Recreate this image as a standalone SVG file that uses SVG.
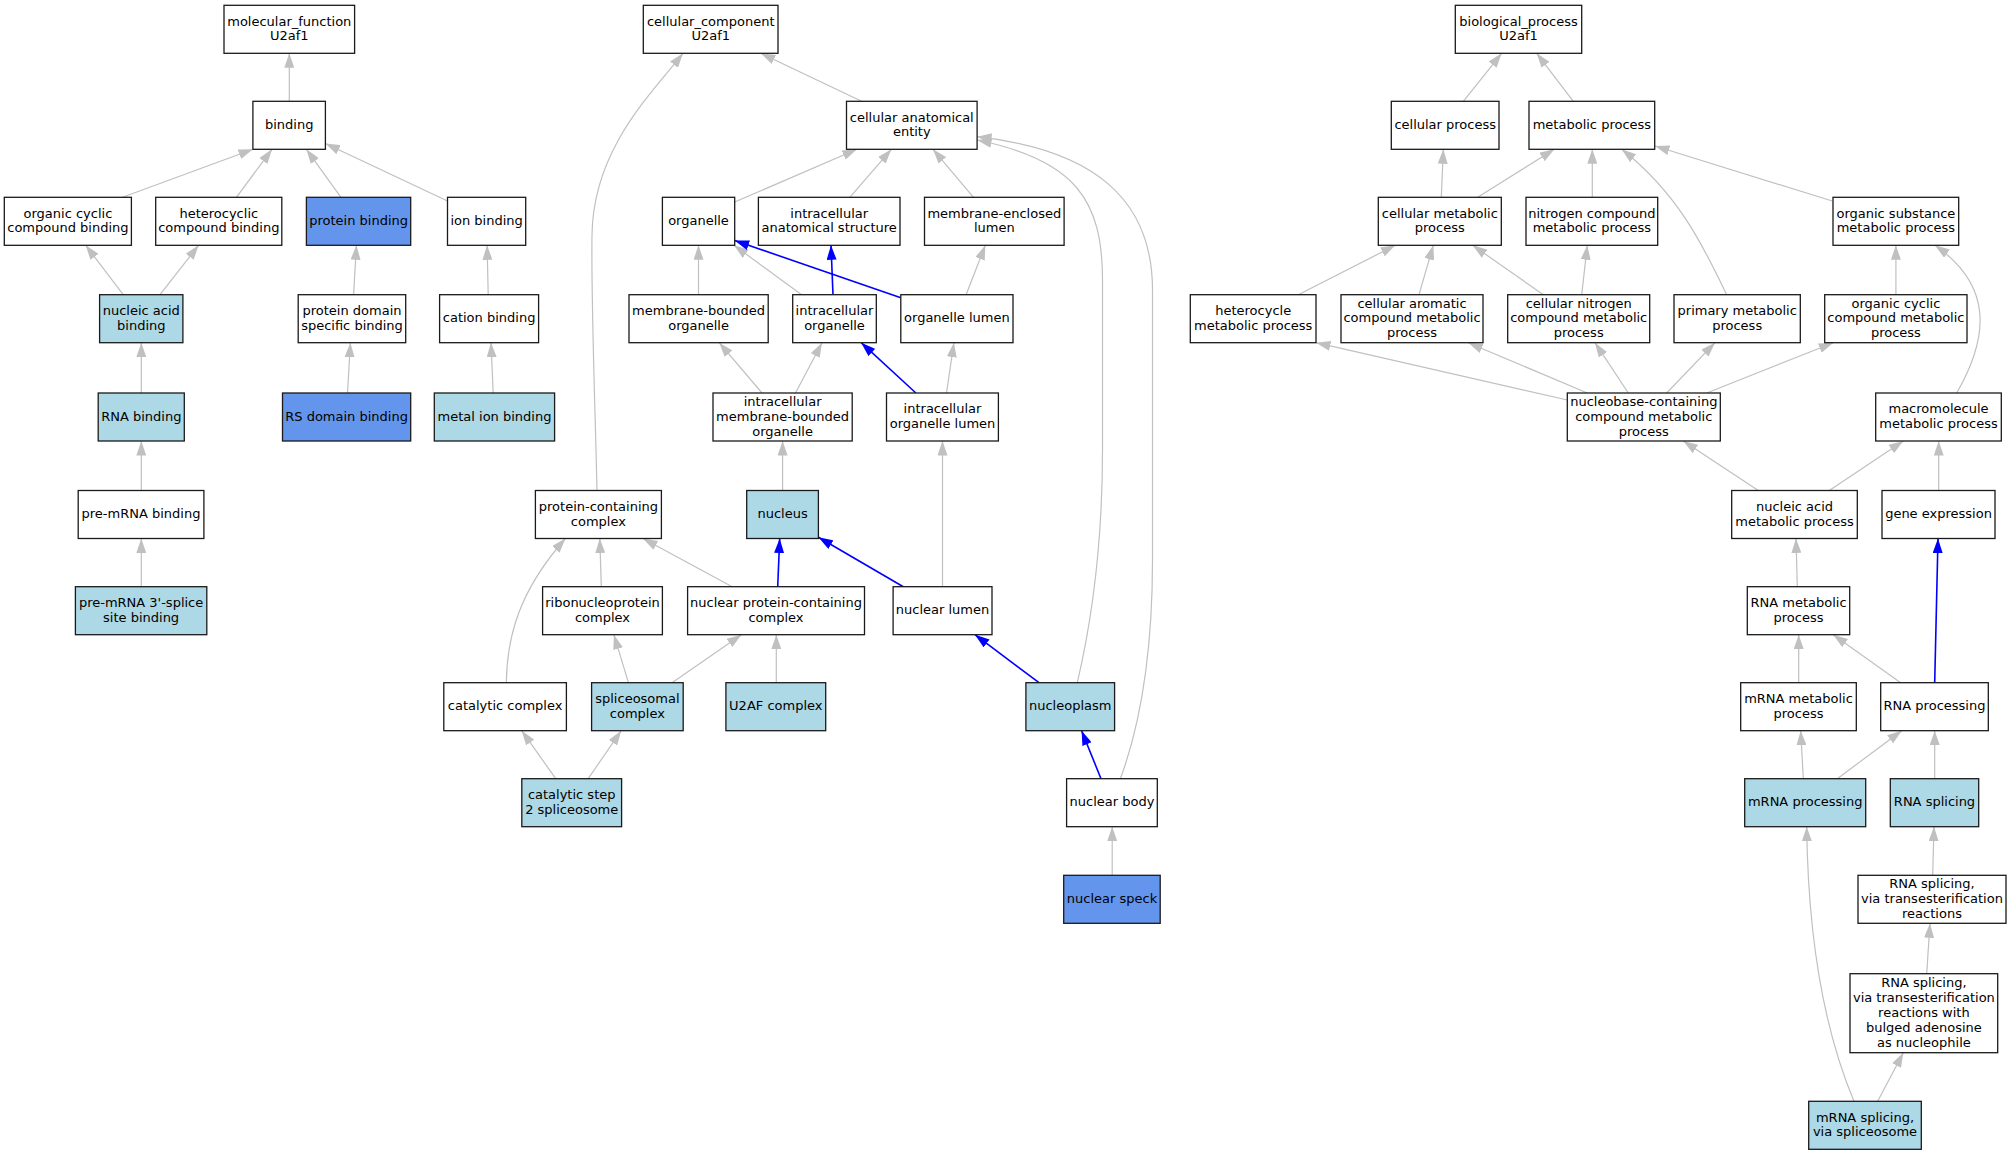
<svg xmlns="http://www.w3.org/2000/svg" width="2012" height="1155" viewBox="0 0 2012 1155">
<style>
.n rect{fill:#fff;stroke:#1a1a1a;stroke-width:1.3}
.n.lb rect{fill:#add8e6}
.n.cb rect{fill:#6495ed}
text{font-family:"DejaVu Sans","Liberation Sans",sans-serif;font-size:13px;text-anchor:middle;fill:#000}
#edges path{fill:none;stroke:#c0c0c0;stroke-width:1.2;marker-end:url(#ag)}
#edges path.b{stroke:#0000ff;stroke-width:1.6;marker-end:url(#ab)}
</style>
<defs>
<marker id="ag" viewBox="0 0 14.5 10" refX="14.5" refY="5" markerWidth="14.5" markerHeight="10" markerUnits="userSpaceOnUse" orient="auto"><path d="M0,0 L14.5,5 L0,10 z" fill="#c0c0c0"/></marker>
<marker id="ab" viewBox="0 0 14.5 10" refX="14.5" refY="5" markerWidth="14.5" markerHeight="10" markerUnits="userSpaceOnUse" orient="auto"><path d="M0,0 L14.5,5 L0,10 z" fill="#0000ff"/></marker>
</defs>
<rect width="2012" height="1155" fill="#fff"/>
<g id="edges">
<path d="M289.3,101.3 L289.3,53.3"/>
<path d="M122.5,197.3 L253,149.3"/>
<path d="M236.4,197.3 L272,149.3"/>
<path d="M341,197.3 L306.4,149.3"/>
<path d="M447.5,201 L325.4,143.5"/>
<path d="M123.2,294.7 L85.7,245.3"/>
<path d="M160,294.7 L198.6,245.3"/>
<path d="M353.6,294.7 L356.4,245.3"/>
<path d="M488.2,294.7 L487.1,245.3"/>
<path d="M141.3,393 L141.3,342.7"/>
<path d="M347.5,393 L350.4,342.7"/>
<path d="M493.2,393 L491,342.7"/>
<path d="M141.3,490.5 L141.3,441"/>
<path d="M141.3,586.7 L141.3,538.5"/>
<path d="M861.6,101.3 L760.8,53.3"/>
<path d="M597,490.5 C595,400 591,300 592,235 C593,150 650,95 683,53.3"/>
<path d="M734.7,202 L857,149.3"/>
<path d="M849.8,197.3 L891.4,149.3"/>
<path d="M973.5,197.3 L933,149.3"/>
<path d="M1077.3,682.7 C1092,620 1102.5,540 1102.5,450 L1102.5,280 C1102.5,200 1075,160 977.1,140"/>
<path d="M1120.4,778.7 C1142,720 1152.5,650 1152.5,560 L1152.5,290 C1152.5,200 1095,150 977.1,136.7"/>
<path d="M698.5,294.7 L698.5,245.3"/>
<path d="M801.6,294.7 L734,245.3"/>
<path class="b" d="M900.8,297.7 L734.7,240.5"/>
<path class="b" d="M833,294.7 L831,245.3"/>
<path d="M966.1,294.7 L985.3,245.3"/>
<path d="M762,393 L719.2,342.7"/>
<path d="M795.5,393 L822,342.7"/>
<path class="b" d="M915.9,393 L861.2,342.7"/>
<path d="M946.5,393 L953.9,342.7"/>
<path d="M782.6,490.5 L782.6,441"/>
<path d="M942.5,586.7 L942.5,441"/>
<path d="M601.3,586.7 L599.8,538.5"/>
<path d="M732.2,586.7 L643,538.5"/>
<path d="M506.3,682.7 C507,635 520,590 565.4,538.5"/>
<path class="b" d="M777.7,586.7 L779.7,538.5"/>
<path class="b" d="M903.3,586.7 L818.4,537.3"/>
<path d="M628.4,682.7 L613.9,634.7"/>
<path d="M672,682.7 L741.4,634.7"/>
<path d="M776.3,682.7 L776.3,634.7"/>
<path class="b" d="M1039,682.7 L975,634.7"/>
<path d="M555.7,778.7 L521.8,730.7"/>
<path d="M588.2,778.7 L621.2,730.7"/>
<path class="b" d="M1101,778.7 L1081.6,730.7"/>
<path d="M1112.2,875.3 L1112.2,826.7"/>
<path d="M1463.3,101.3 L1501.7,53.3"/>
<path d="M1573.3,101.3 L1536.7,53.3"/>
<path d="M1441.3,197.3 L1443.3,149.3"/>
<path d="M1477.7,197.3 L1554.3,149.3"/>
<path d="M1592.3,197.3 L1592.3,149.3"/>
<path d="M1726.7,294.7 C1705,250 1680,195 1621.7,149.3"/>
<path d="M1832.3,201 L1655,146"/>
<path d="M1298.3,294.7 L1395.3,245.3"/>
<path d="M1419,294.7 L1433.3,245.3"/>
<path d="M1543.3,294.7 L1472.7,245.3"/>
<path d="M1581.7,294.7 L1587.3,245.3"/>
<path d="M1895.9,294.7 L1895.9,245.3"/>
<path d="M1956.7,393 C1990,335 1992,285 1935,245.3"/>
<path d="M1567.3,400 L1316,342.7"/>
<path d="M1587.3,393 L1468.3,342.7"/>
<path d="M1628.3,393 L1595,342.7"/>
<path d="M1666.7,393 L1715,342.7"/>
<path d="M1706.7,393 L1833.3,342.7"/>
<path d="M1758.3,490.5 L1683.3,441"/>
<path d="M1829.3,490.5 L1903.3,441"/>
<path d="M1938.7,490.5 L1938.7,441"/>
<path d="M1797.3,586.7 L1796,538.5"/>
<path class="b" d="M1934.7,682.7 L1938,538.5"/>
<path d="M1798.7,682.7 L1798.7,634.7"/>
<path d="M1900.7,682.7 L1833.3,634.7"/>
<path d="M1803.3,778.7 L1800.7,730.7"/>
<path d="M1837.3,778.7 L1901.7,730.7"/>
<path d="M1934.7,778.7 L1934.7,730.7"/>
<path d="M1932.7,875.3 L1934,826.7"/>
<path d="M1926.7,973.7 L1930,923.3"/>
<path d="M1877.7,1101.3 L1903.3,1052.7"/>
<path d="M1854,1101.3 C1822,1025 1808,935 1806.7,826.7"/>
</g>
<!-- molecular function -->
<g id="mf" class="n"><rect x="224" y="5.3" width="130.6" height="48"/><text x="289.3" y="25.6">molecular_function</text><text x="289.3" y="40.4">U2af1</text></g>
<g id="binding" class="n"><rect x="252.9" y="101.3" width="72.5" height="48"/><text x="289.2" y="129">binding</text></g>
<g id="occb" class="n"><rect x="4.3" y="197.3" width="127.1" height="48"/><text x="67.9" y="217.6">organic cyclic</text><text x="67.9" y="232.4">compound binding</text></g>
<g id="hcb" class="n"><rect x="155.7" y="197.3" width="126.1" height="48"/><text x="218.8" y="217.6">heterocyclic</text><text x="218.8" y="232.4">compound binding</text></g>
<g id="pb" class="n cb"><rect x="306.4" y="197.3" width="104.3" height="48"/><text x="358.6" y="225">protein binding</text></g>
<g id="ionb" class="n"><rect x="447.5" y="197.3" width="78.2" height="48"/><text x="486.6" y="225">ion binding</text></g>
<g id="nab" class="n lb"><rect x="99.6" y="294.7" width="83.3" height="48"/><text x="141.3" y="315">nucleic acid</text><text x="141.3" y="329.8">binding</text></g>
<g id="pdsb" class="n"><rect x="298.2" y="294.7" width="107.5" height="48"/><text x="352" y="315">protein domain</text><text x="352" y="329.8">specific binding</text></g>
<g id="cationb" class="n"><rect x="439.6" y="294.7" width="99" height="48"/><text x="489.1" y="322.4">cation binding</text></g>
<g id="rnab" class="n lb"><rect x="98.2" y="393" width="86.1" height="48"/><text x="141.3" y="420.7">RNA binding</text></g>
<g id="rsdb" class="n cb"><rect x="282.5" y="393" width="128.2" height="48"/><text x="346.6" y="420.7">RS domain binding</text></g>
<g id="mib" class="n lb"><rect x="434.3" y="393" width="120.3" height="48"/><text x="494.5" y="420.7">metal ion binding</text></g>
<g id="premrna" class="n"><rect x="78.2" y="490.5" width="125.7" height="48"/><text x="141" y="518.2">pre-mRNA binding</text></g>
<g id="splice3" class="n lb"><rect x="75.4" y="586.7" width="131.4" height="48"/><text x="141.1" y="607">pre-mRNA 3'-splice</text><text x="141.1" y="621.8">site binding</text></g>
<!-- cellular component -->
<g id="cc" class="n"><rect x="643.3" y="5.3" width="134.7" height="48"/><text x="710.7" y="25.6">cellular_component</text><text x="710.7" y="40.4">U2af1</text></g>
<g id="cae" class="n"><rect x="846.5" y="101.3" width="130.6" height="48"/><text x="911.8" y="121.6">cellular anatomical</text><text x="911.8" y="136.4">entity</text></g>
<g id="organelle" class="n"><rect x="662.4" y="197.3" width="72.3" height="48"/><text x="698.5" y="225">organelle</text></g>
<g id="ias" class="n"><rect x="758.4" y="197.3" width="141.6" height="48"/><text x="829.2" y="217.6">intracellular</text><text x="829.2" y="232.4">anatomical structure</text></g>
<g id="mel" class="n"><rect x="924.5" y="197.3" width="139.6" height="48"/><text x="994.3" y="217.6">membrane-enclosed</text><text x="994.3" y="232.4">lumen</text></g>
<g id="mbo" class="n"><rect x="629" y="294.7" width="139.2" height="48"/><text x="698.6" y="315">membrane-bounded</text><text x="698.6" y="329.8">organelle</text></g>
<g id="io" class="n"><rect x="792.7" y="294.7" width="83.6" height="48"/><text x="834.5" y="315">intracellular</text><text x="834.5" y="329.8">organelle</text></g>
<g id="ol" class="n"><rect x="900.8" y="294.7" width="112.2" height="48"/><text x="956.9" y="322.4">organelle lumen</text></g>
<g id="imbo" class="n"><rect x="713" y="393" width="139.2" height="48"/><text x="782.6" y="405.9">intracellular</text><text x="782.6" y="420.7">membrane-bounded</text><text x="782.6" y="435.5">organelle</text></g>
<g id="iol" class="n"><rect x="886.5" y="393" width="111.9" height="48"/><text x="942.5" y="413.3">intracellular</text><text x="942.5" y="428.1">organelle lumen</text></g>
<g id="pcc" class="n"><rect x="535.4" y="490.5" width="126" height="48"/><text x="598.4" y="510.8">protein-containing</text><text x="598.4" y="525.6">complex</text></g>
<g id="nucleus" class="n lb"><rect x="746.7" y="490.5" width="71.7" height="48"/><text x="782.6" y="518.2">nucleus</text></g>
<g id="rnp" class="n"><rect x="542.6" y="586.7" width="119.8" height="48"/><text x="602.5" y="607">ribonucleoprotein</text><text x="602.5" y="621.8">complex</text></g>
<g id="npcc" class="n"><rect x="687.6" y="586.7" width="176.9" height="48"/><text x="776" y="607">nuclear protein-containing</text><text x="776" y="621.8">complex</text></g>
<g id="nlumen" class="n"><rect x="893.1" y="586.7" width="98.9" height="48"/><text x="942.5" y="614.4">nuclear lumen</text></g>
<g id="catc" class="n"><rect x="443.8" y="682.7" width="122.6" height="48"/><text x="505.1" y="710.4">catalytic complex</text></g>
<g id="spl" class="n lb"><rect x="591.6" y="682.7" width="91.6" height="48"/><text x="637.4" y="703">spliceosomal</text><text x="637.4" y="717.8">complex</text></g>
<g id="u2af" class="n lb"><rect x="725.9" y="682.7" width="99.8" height="48"/><text x="775.8" y="710.4">U2AF complex</text></g>
<g id="nucleoplasm" class="n lb"><rect x="1025.9" y="682.7" width="88.7" height="48"/><text x="1070.2" y="710.4">nucleoplasm</text></g>
<g id="cs2" class="n lb"><rect x="521.8" y="778.7" width="99.8" height="48"/><text x="571.7" y="799">catalytic step</text><text x="571.7" y="813.8">2 spliceosome</text></g>
<g id="nbody" class="n"><rect x="1066.6" y="778.7" width="90.7" height="48"/><text x="1112" y="806.4">nuclear body</text></g>
<g id="nspeck" class="n cb"><rect x="1063.7" y="875.3" width="96.5" height="48"/><text x="1112" y="903">nuclear speck</text></g>
<!-- biological process -->
<g id="bp" class="n"><rect x="1455.3" y="5.3" width="126.4" height="48"/><text x="1518.5" y="25.6">biological_process</text><text x="1518.5" y="40.4">U2af1</text></g>
<g id="cp" class="n"><rect x="1391.3" y="101.3" width="107.7" height="48"/><text x="1445.2" y="129">cellular process</text></g>
<g id="mp" class="n"><rect x="1529" y="101.3" width="125.7" height="48"/><text x="1591.9" y="129">metabolic process</text></g>
<g id="cmp" class="n"><rect x="1378.3" y="197.3" width="123" height="48"/><text x="1439.8" y="217.6">cellular metabolic</text><text x="1439.8" y="232.4">process</text></g>
<g id="ncmp" class="n"><rect x="1526" y="197.3" width="131.7" height="48"/><text x="1591.9" y="217.6">nitrogen compound</text><text x="1591.9" y="232.4">metabolic process</text></g>
<g id="osmp" class="n"><rect x="1833" y="197.3" width="125.7" height="48"/><text x="1895.9" y="217.6">organic substance</text><text x="1895.9" y="232.4">metabolic process</text></g>
<g id="hmp" class="n"><rect x="1190.3" y="294.7" width="125.7" height="48"/><text x="1253.2" y="315">heterocycle</text><text x="1253.2" y="329.8">metabolic process</text></g>
<g id="camp" class="n"><rect x="1341" y="294.7" width="142" height="48"/><text x="1412" y="307.6">cellular aromatic</text><text x="1412" y="322.4">compound metabolic</text><text x="1412" y="337.2">process</text></g>
<g id="cncmp" class="n"><rect x="1507.7" y="294.7" width="142" height="48"/><text x="1578.7" y="307.6">cellular nitrogen</text><text x="1578.7" y="322.4">compound metabolic</text><text x="1578.7" y="337.2">process</text></g>
<g id="pmp" class="n"><rect x="1674" y="294.7" width="126.3" height="48"/><text x="1737.2" y="315">primary metabolic</text><text x="1737.2" y="329.8">process</text></g>
<g id="occmp" class="n"><rect x="1824.7" y="294.7" width="142.3" height="48"/><text x="1895.9" y="307.6">organic cyclic</text><text x="1895.9" y="322.4">compound metabolic</text><text x="1895.9" y="337.2">process</text></g>
<g id="nbcmp" class="n"><rect x="1567.3" y="393" width="153" height="48"/><text x="1643.8" y="405.9">nucleobase-containing</text><text x="1643.8" y="420.7">compound metabolic</text><text x="1643.8" y="435.5">process</text></g>
<g id="mmp" class="n"><rect x="1875.7" y="393" width="125.6" height="48"/><text x="1938.5" y="413.3">macromolecule</text><text x="1938.5" y="428.1">metabolic process</text></g>
<g id="namp" class="n"><rect x="1731.7" y="490.5" width="125.6" height="48"/><text x="1794.5" y="510.8">nucleic acid</text><text x="1794.5" y="525.6">metabolic process</text></g>
<g id="ge" class="n"><rect x="1882" y="490.5" width="113" height="48"/><text x="1938.5" y="518.2">gene expression</text></g>
<g id="rmp" class="n"><rect x="1747.3" y="586.7" width="102.4" height="48"/><text x="1798.5" y="607">RNA metabolic</text><text x="1798.5" y="621.8">process</text></g>
<g id="mrmp" class="n"><rect x="1740.7" y="682.7" width="115.6" height="48"/><text x="1798.5" y="703">mRNA metabolic</text><text x="1798.5" y="717.8">process</text></g>
<g id="rp" class="n"><rect x="1880.7" y="682.7" width="107.6" height="48"/><text x="1934.5" y="710.4">RNA processing</text></g>
<g id="mrp" class="n lb"><rect x="1744.7" y="778.7" width="121" height="48"/><text x="1805.2" y="806.4">mRNA processing</text></g>
<g id="rs" class="n lb"><rect x="1890.3" y="778.7" width="88.4" height="48"/><text x="1934.5" y="806.4">RNA splicing</text></g>
<g id="rst" class="n"><rect x="1858" y="875.3" width="148" height="48"/><text x="1932" y="888.2">RNA splicing,</text><text x="1932" y="903">via transesterification</text><text x="1932" y="917.8">reactions</text></g>
<g id="rst5" class="n"><rect x="1850" y="973.7" width="147.7" height="79"/><text x="1923.9" y="987.3">RNA splicing,</text><text x="1923.9" y="1002.1">via transesterification</text><text x="1923.9" y="1016.9">reactions with</text><text x="1923.9" y="1031.7">bulged adenosine</text><text x="1923.9" y="1046.5">as nucleophile</text></g>
<g id="mss" class="n lb"><rect x="1808.7" y="1101.3" width="112.6" height="48"/><text x="1865" y="1121.6">mRNA splicing,</text><text x="1865" y="1136.4">via spliceosome</text></g>
</svg>
